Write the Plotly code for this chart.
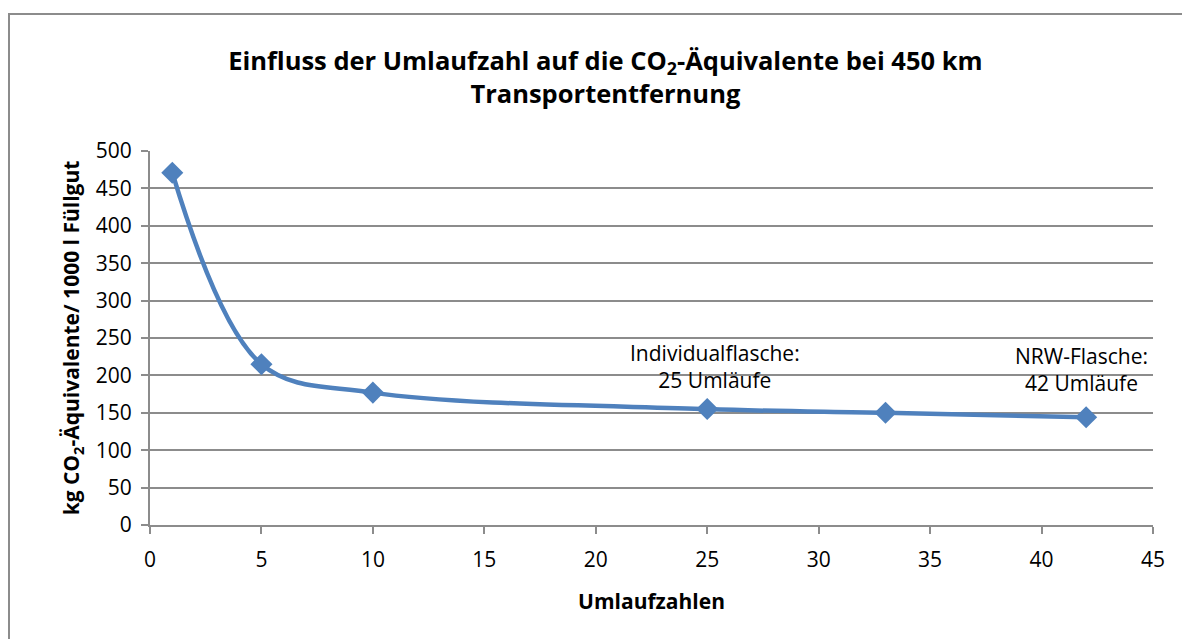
import plotly.graph_objects as go

umlaufzahlen = [1, 5, 10, 25, 33, 42]
co2_aequivalente = [471, 215, 177, 155, 150, 144]

x_ticks = [0, 5, 10, 15, 20, 25, 30, 35, 40, 45]
y_ticks = [0, 50, 100, 150, 200, 250, 300, 350, 400, 450, 500]

font_family = "Open Sans, Noto Sans, sans-serif"
grid_col = "#8c8c8c"

fig = go.Figure()
fig.add_trace(go.Scatter(
    x=umlaufzahlen, y=co2_aequivalente, mode="lines+markers",
    line=dict(color="#4F81BD", width=4.5, shape="spline", smoothing=1.0),
    marker=dict(symbol="diamond", size=17, color="#4F81BD"),
    showlegend=False,
))

fig.update_layout(
    width=1190, height=639,
    margin=dict(l=142, r=45, t=143, b=122),
    paper_bgcolor="white", plot_bgcolor="white",
    font=dict(family=font_family, color="black", size=21),
    title=dict(
        text="<b>Einfluss der Umlaufzahl auf die CO<sub>2</sub>-Äquivalente bei 450 km<br>Transportentfernung</b>",
        x=0.502, xanchor="center", y=1 - 62 / 639, yanchor="top",
        font=dict(size=25.5, family=font_family),
    ),
    xaxis=dict(
        range=[0, 45], tickvals=x_ticks, showgrid=False, zeroline=False,
        showline=True, linecolor=grid_col, linewidth=2,
        ticks="outside", ticklen=7, tickcolor=grid_col, tickwidth=1.5,
        tickfont=dict(size=21), ticklabelstandoff=8,
        title=dict(text="<b>Umlaufzahlen</b>", font=dict(size=21), standoff=22),
    ),
    yaxis=dict(
        range=[0, 500], tickvals=y_ticks, showgrid=True, gridcolor=grid_col,
        gridwidth=1.5, zeroline=False,
        showline=True, linecolor=grid_col, linewidth=2,
        ticks="outside", ticklen=7, tickcolor=grid_col, tickwidth=1.5,
        tickfont=dict(size=21), ticklabelstandoff=5,
        title=dict(text="<b>kg CO<sub>2</sub>-Äquivalente/ 1000 l Füllgut</b>", font=dict(size=21), standoff=10),
    ),
    shapes=[dict(
        type="rect", xref="paper", yref="paper",
        x0=-141/1003, x1=1.05, y0=-0.4, y1=1 + 137/374,
        line=dict(color="#8c8c8c", width=2), fillcolor="rgba(0,0,0,0)",
        layer="below",
    )],
    annotations=[
        dict(x=25.35, y=212, xref="x", yref="y", text="Individualflasche:<br>25 Umläufe",
             showarrow=False, xanchor="center", yanchor="middle", align="center",
             font=dict(size=21)),
        dict(x=41.8, y=208, xref="x", yref="y", text="NRW-Flasche:<br>42 Umläufe",
             showarrow=False, xanchor="center", yanchor="middle", align="center",
             font=dict(size=21)),
    ],
)

fig.write_html("out.html")
